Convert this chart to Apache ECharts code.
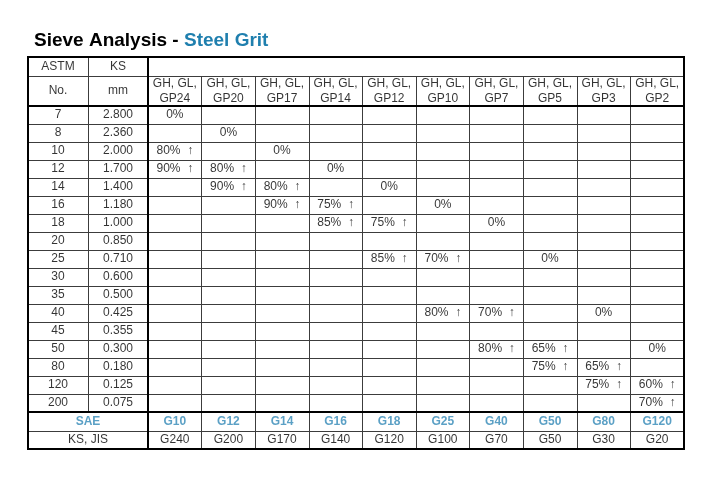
<!DOCTYPE html>
<html><head><meta charset="utf-8">
<script src="https://cdn.jsdelivr.net/npm/echarts@6/dist/echarts.min.js"></script>
<style>html,body{margin:0;padding:0;background:#fff}#c{width:712px;height:487px}</style>
</head><body><div id="c"></div>
<script>
// ---------- data ----------
const titleMain = 'Sieve Analysis - ';
const titleSub = 'Steel Grit';
const leftHeadTop = ['ASTM', 'KS'];
const leftHeadSub = ['No.', 'mm'];
const astmNo = ['7','8','10','12','14','16','18','20','25','30','35','40','45','50','80','120','200'];
const ksMm = ['2.800','2.360','2.000','1.700','1.400','1.180','1.000','0.850','0.710','0.600','0.500','0.425','0.355','0.300','0.180','0.125','0.075'];
const gradePrefix = 'GH, GL,';
const grades = ['GP24','GP20','GP17','GP14','GP12','GP10','GP7','GP5','GP3','GP2'];
const saeLabel = 'SAE';
const saeGrades = ['G10','G12','G14','G16','G18','G25','G40','G50','G80','G120'];
const ksJisLabel = 'KS, JIS';
const ksJisGrades = ['G240','G200','G170','G140','G120','G100','G70','G50','G30','G20'];
// retained values per grade: [ASTM No., value]
const gp24 = [['7','0%'],['10','80%  ↑'],['12','90%  ↑']];
const gp20 = [['8','0%'],['12','80%  ↑'],['14','90%  ↑']];
const gp17 = [['10','0%'],['14','80%  ↑'],['16','90%  ↑']];
const gp14 = [['12','0%'],['16','75%  ↑'],['18','85%  ↑']];
const gp12 = [['14','0%'],['18','75%  ↑'],['25','85%  ↑']];
const gp10 = [['16','0%'],['25','70%  ↑'],['40','80%  ↑']];
const gp7  = [['18','0%'],['40','70%  ↑'],['50','80%  ↑']];
const gp5  = [['25','0%'],['50','65%  ↑'],['80','75%  ↑']];
const gp3  = [['40','0%'],['80','65%  ↑'],['120','75%  ↑']];
const gp2  = [['50','0%'],['120','60%  ↑'],['200','70%  ↑']];
const gradeValues = [gp24, gp20, gp17, gp14, gp12, gp10, gp7, gp5, gp3, gp2];

// ---------- layout / style ----------
const FONT = '"Liberation Sans", Arial, sans-serif';
const LINE = '#3c3c3c';
const BLUE = '#3288b6';
const TXT = '#000';
const grids = [], xAxes = [], yAxes = [], series = [];

function addGrid(pos, xCats, yCats) {
  const i = grids.length;
  grids.push(Object.assign({ show: false }, pos));
  const common = {
    type: 'category', gridIndex: i, boundaryGap: true,
    axisLine: { show: false }, axisTick: { show: false }, axisLabel: { show: false },
    splitLine: { show: true, interval: 0, lineStyle: { color: LINE, width: 1 } }
  };
  xAxes.push(Object.assign({}, common, { data: xCats }));
  yAxes.push(Object.assign({}, common, { data: yCats, inverse: true }));
  return i;
}
function addText(gi, data, label) {
  series.push({
    type: 'scatter', xAxisIndex: gi, yAxisIndex: gi, symbolSize: 1, silent: true,
    itemStyle: { color: 'rgba(0,0,0,0)' },
    data: data,
    label: Object.assign({
      show: true, position: 'inside', formatter: p => p.data[2],
      fontFamily: FONT, fontSize: 12, color: TXT
    }, label || {})
  });
}
function addFrame(pos) {
  const i = grids.length;
  grids.push(Object.assign({ show: true, z: 10, backgroundColor: 'transparent', borderColor: '#000', borderWidth: 2 }, pos));
  xAxes.push({ type: 'value', gridIndex: i, show: false });
  yAxes.push({ type: 'value', gridIndex: i, show: false });
}

const L = 28, LW = 120, R = 148, RW = 536;
const leftCols = ['c1', 'c2'];
// header row 1
let g = addGrid({ left: L, top: 57, width: LW, height: 19 }, leftCols, ['h']);
addText(g, leftCols.map((c, k) => [c, 'h', leftHeadTop[k]]));
addGrid({ left: R, top: 57, width: RW, height: 19 }, ['m'], ['h']);
// header row 2
g = addGrid({ left: L, top: 76, width: LW, height: 30 }, leftCols, ['h']);
addText(g, leftCols.map((c, k) => [c, 'h', leftHeadSub[k]]));
g = addGrid({ left: R, top: 76, width: RW, height: 30 }, grades, ['h']);
addText(g, grades.map(gr => [gr, 'h', gradePrefix + '\n' + gr]), { lineHeight: 15 });
// body left
g = addGrid({ left: L, top: 106, width: LW, height: 306 }, leftCols, astmNo);
addText(g, astmNo.map(a => ['c1', a, a]).concat(astmNo.map((a, k) => ['c2', a, ksMm[k]])));
// body right
g = addGrid({ left: R, top: 106, width: RW, height: 306 }, grades, astmNo);
const bodyData = [];
gradeValues.forEach((arr, c) => arr.forEach(([a, v]) => bodyData.push([grades[c], a, v])));
addText(g, bodyData);
// SAE row
g = addGrid({ left: L, top: 412, width: LW, height: 19 }, ['m'], ['s']);
addText(g, [['m', 's', saeLabel]], { color: BLUE, fontWeight: 'bold' });
g = addGrid({ left: R, top: 412, width: RW, height: 19 }, saeGrades, ['s']);
addText(g, saeGrades.map(s => [s, 's', s]), { color: BLUE, fontWeight: 'bold' });
// KS, JIS row
g = addGrid({ left: L, top: 431, width: LW, height: 18 }, ['m'], ['k']);
addText(g, [['m', 'k', ksJisLabel]]);
g = addGrid({ left: R, top: 431, width: RW, height: 18 }, ksJisGrades, ['k']);
addText(g, ksJisGrades.map(s => [s, 'k', s]));
// thick frames
addFrame({ left: L, top: 57, width: LW + RW, height: 392 });
addFrame({ left: L, top: 106, width: LW + RW, height: 306 });
addFrame({ left: R, top: 57, width: RW, height: 392 });

const chart = echarts.init(document.getElementById('c'), null, { renderer: 'canvas' });
chart.setOption({
  animation: false,
  backgroundColor: '#fff',
  title: {
    left: 29, top: 26,
    text: '{a|' + titleMain + '}{b|' + titleSub + '}',
    textStyle: {
      rich: {
        a: { fontFamily: FONT, fontSize: 19, fontWeight: 'bold', color: TXT },
        b: { fontFamily: FONT, fontSize: 19, fontWeight: 'bold', color: '#1f7fae' }
      }
    }
  },
  tooltip: { show: false },
  grid: grids, xAxis: xAxes, yAxis: yAxes, series: series
});
</script></body></html>
